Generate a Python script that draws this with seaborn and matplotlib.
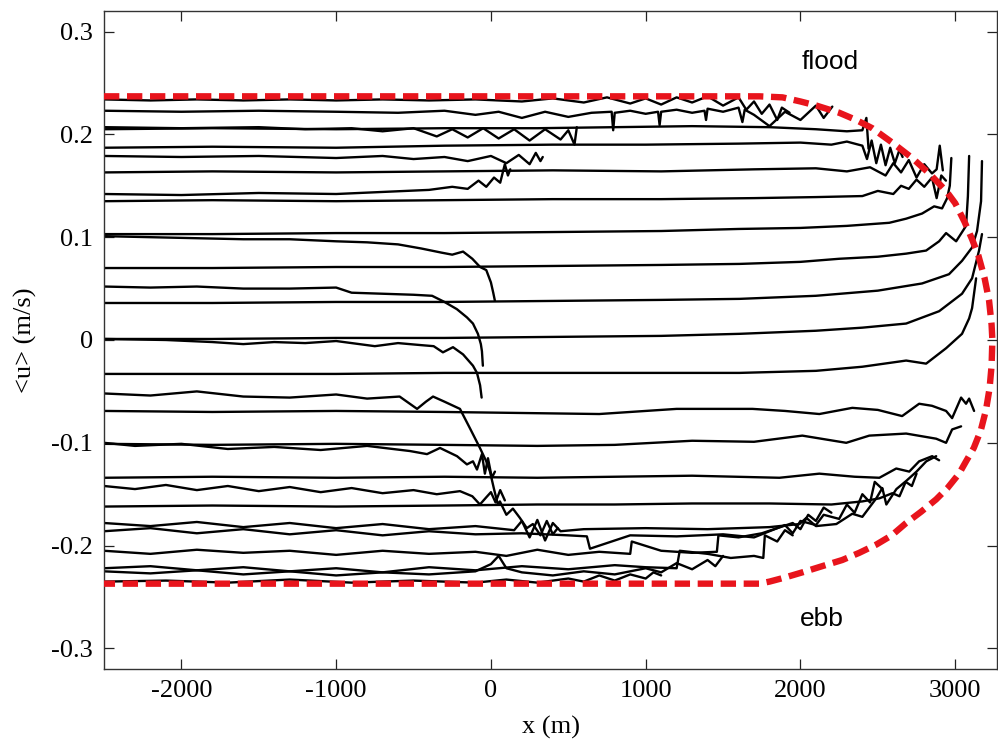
import numpy as np
import pandas as pd
import matplotlib
matplotlib.use("Agg")
import matplotlib.pyplot as plt
import seaborn as sns

# ---------------- data ----------------
# flood-side profiles (x in m, <u> in m/s)
f1_x = [-2500,-2200,-1900,-1600,-1300,-1000,-700,-400,-100,200,400,600,750,900,1000,1100,1200,1300,1400,1500,1600,1650,1700,1750,1800,1850,1880,1930]
f1_u = [0.234,0.233,0.234,0.233,0.234,0.233,0.234,0.233,0.234,0.232,0.235,0.231,0.236,0.230,0.235,0.229,0.236,0.231,0.237,0.228,0.236,0.224,0.232,0.220,0.229,0.214,0.226,0.221]

f2_x = [-2500,-2000,-1500,-1000,-600,-300,-100,50,200,350,500,650,780,790,800,900,1000,1080,1090,1100,1200,1300,1380,1390,1400,1500,1600,1625,1640,1700,1800,1900,2000,2100,2150,2206]
f2_u = [0.223,0.222,0.223,0.222,0.221,0.223,0.219,0.222,0.216,0.222,0.217,0.221,0.222,0.204,0.221,0.223,0.220,0.222,0.209,0.222,0.224,0.221,0.223,0.214,0.225,0.222,0.226,0.212,0.224,0.219,0.208,0.222,0.214,0.228,0.216,0.227]

f3_x = [-2500,-2000,-1500,-1200,-900,-700,-500,-350,-250,-150,-50,50,150,250,350,450,500,540,555]
f3_u = [0.207,0.206,0.207,0.205,0.206,0.203,0.206,0.198,0.205,0.197,0.206,0.196,0.205,0.194,0.205,0.195,0.204,0.190,0.207]

f4_x = [-2500,-1800,-1000,-300,300,800,1300,1800,2100,2300,2400,2426,2440]
f4_u = [0.205,0.206,0.205,0.206,0.206,0.207,0.208,0.207,0.205,0.203,0.204,0.216,0.186]

f5_x = [-2500,-1800,-1000,-300,400,1000,1600,2000,2200,2300,2400,2430,2460,2490,2520,2550,2580,2610,2640,2660]
f5_u = [0.187,0.188,0.187,0.189,0.190,0.190,0.191,0.192,0.190,0.193,0.189,0.176,0.194,0.172,0.190,0.170,0.187,0.172,0.185,0.178]

f6_x = [-2500,-2000,-1500,-1000,-700,-500,-300,-150,0,100,180,250,290,320,335]
f6_u = [0.179,0.178,0.179,0.177,0.179,0.176,0.178,0.174,0.179,0.172,0.180,0.171,0.182,0.174,0.178]

f7_x = [-2500,-1800,-1000,-300,400,1100,1700,2100,2300,2450,2550,2600,2650,2700,2750,2800,2850,2880,2900,2920]
f7_u = [0.163,0.164,0.163,0.164,0.165,0.164,0.166,0.167,0.164,0.168,0.160,0.172,0.163,0.175,0.158,0.171,0.162,0.166,0.189,0.165]

f8_x = [-2500,-2000,-1500,-1000,-700,-400,-250,-150,-80,-30,20,60,90,110,125]
f8_u = [0.142,0.141,0.143,0.142,0.144,0.146,0.149,0.147,0.155,0.149,0.158,0.153,0.171,0.160,0.166]

f9_x = [-2500,-1800,-1000,-300,400,1100,1700,2100,2400,2500,2600,2650,2700,2750,2800,2850,2880,2910,2940]
f9_u = [0.135,0.136,0.135,0.136,0.137,0.137,0.138,0.139,0.140,0.145,0.142,0.150,0.147,0.156,0.149,0.158,0.138,0.160,0.155]

f10_x = [-2500,-1800,-1000,-300,400,1100,1600,2000,2300,2574,2683,2786,2864,2915,2948,2965,2975]
f10_u = [0.103,0.103,0.104,0.104,0.105,0.106,0.108,0.109,0.111,0.114,0.118,0.123,0.130,0.128,0.138,0.150,0.177]

f11_x = [-2500,-2200,-1900,-1600,-1300,-1000,-800,-600,-450,-320,-250,-180,-120,-70,-30,0,15,26]
f11_u = [0.101,0.100,0.099,0.098,0.098,0.096,0.095,0.093,0.089,0.085,0.083,0.086,0.079,0.071,0.068,0.056,0.046,0.038]

f12_x = [-2500,-1800,-1000,-300,400,1100,1606,2000,2250,2500,2683,2812,2896,2941,3006,3070,3082,3090]
f12_u = [0.070,0.070,0.071,0.071,0.072,0.073,0.074,0.076,0.079,0.081,0.084,0.087,0.096,0.104,0.096,0.111,0.140,0.179]

f13_x = [-2500,-2200,-1900,-1600,-1300,-1000,-900,-700,-500,-380,-300,-220,-155,-116,-84,-65,-58,-52]
f13_u = [0.052,0.051,0.052,0.050,0.050,0.051,0.046,0.045,0.044,0.043,0.037,0.030,0.022,0.016,0.006,-0.004,-0.011,-0.025]

f14_x = [-2500,-1800,-1000,-300,400,1100,1606,2100,2500,2786,2960,3044,3109,3141,3167,3173]
f14_u = [0.036,0.036,0.037,0.037,0.038,0.039,0.040,0.043,0.048,0.055,0.064,0.077,0.090,0.106,0.135,0.174]

f15_x = [-2500,-1800,-1000,-300,400,1100,1606,2100,2400,2683,2896,3044,3109,3154,3173]
f15_u = [0.001,0.001,0.002,0.002,0.003,0.004,0.006,0.009,0.012,0.016,0.028,0.045,0.060,0.087,0.103]

f16_x = [-2500,-2100,-1800,-1600,-1400,-1200,-1000,-750,-600,-450,-370,-310,-245,-180,-116,-90,-70,-60]
f16_u = [0.001,0.000,-0.002,-0.004,-0.002,-0.003,-0.001,-0.006,-0.003,-0.005,-0.006,-0.012,-0.007,-0.014,-0.025,-0.032,-0.044,-0.056]

# ebb-side profiles
e1_x = [-2500,-1800,-1000,-300,400,1100,1606,2100,2400,2683,2812,2941,3044,3090,3109,3135]
e1_u = [-0.033,-0.033,-0.033,-0.032,-0.032,-0.032,-0.032,-0.030,-0.026,-0.020,-0.023,-0.008,0.006,0.021,0.031,0.060]

e2_x = [-2500,-2200,-1900,-1600,-1300,-1000,-800,-590,-477,-420,-374,-300,-200,-135,-71,-30,-6,20,45,58,100,142,187,232,271,320,361,400,432]
e2_u = [-0.052,-0.054,-0.050,-0.055,-0.056,-0.053,-0.057,-0.055,-0.067,-0.060,-0.055,-0.060,-0.067,-0.086,-0.105,-0.118,-0.128,-0.145,-0.160,-0.157,-0.170,-0.164,-0.173,-0.183,-0.179,-0.190,-0.176,-0.189,-0.183]

e3_x = [-2500,-1800,-1000,-300,200,700,1200,1690,1900,2122,2335,2500,2657,2767,2850,2941,2980,3038,3070,3090,3122]
e3_u = [-0.069,-0.070,-0.069,-0.070,-0.071,-0.072,-0.067,-0.067,-0.069,-0.072,-0.066,-0.068,-0.074,-0.062,-0.064,-0.069,-0.076,-0.056,-0.062,-0.057,-0.069]

e4_x = [-2500,-1800,-1000,-300,300,800,1300,1700,2012,2296,2445,2683,2877,2941,2980,3038]
e4_u = [-0.101,-0.102,-0.101,-0.102,-0.103,-0.102,-0.098,-0.099,-0.093,-0.100,-0.093,-0.091,-0.096,-0.100,-0.087,-0.084]

e5_x = [-2500,-2300,-2000,-1700,-1400,-1100,-800,-523,-413,-329,-219,-155,-116,-90,-58,-39,-19,6,26]
e5_u = [-0.100,-0.103,-0.101,-0.106,-0.104,-0.107,-0.103,-0.108,-0.111,-0.105,-0.113,-0.121,-0.118,-0.126,-0.111,-0.130,-0.115,-0.134,-0.128]

e6_x = [-2500,-1800,-1000,-300,300,800,1300,1864,2122,2350,2510,2619,2703,2767,2851,2896]
e6_u = [-0.134,-0.133,-0.134,-0.133,-0.134,-0.133,-0.132,-0.134,-0.130,-0.133,-0.134,-0.125,-0.128,-0.118,-0.113,-0.117]

e7_x = [-2500,-2300,-2100,-1900,-1700,-1500,-1300,-1100,-900,-700,-500,-350,-200,-120,-71,-30,0,30,60,90]
e7_u = [-0.142,-0.145,-0.141,-0.146,-0.142,-0.147,-0.143,-0.148,-0.144,-0.149,-0.146,-0.150,-0.147,-0.152,-0.160,-0.153,-0.148,-0.158,-0.146,-0.156]

e8_x = [-2500,-1800,-1000,-300,300,800,1300,1800,2200,2400,2510,2594,2640,2680,2720,2750]
e8_u = [-0.162,-0.161,-0.162,-0.161,-0.160,-0.160,-0.159,-0.159,-0.160,-0.157,-0.154,-0.149,-0.152,-0.138,-0.142,-0.130]

e9_x = [-2500,-2200,-1900,-1600,-1300,-1000,-700,-400,-100,150,200,250,300,350,400,450,600,1000,1400,1800,1994,2038,2100,2232,2335,2400,2490,2529,2555,2620,2684,2750,2813,2877]
e9_u = [-0.178,-0.181,-0.177,-0.182,-0.178,-0.183,-0.179,-0.184,-0.181,-0.185,-0.176,-0.192,-0.175,-0.195,-0.178,-0.186,-0.184,-0.183,-0.184,-0.182,-0.179,-0.173,-0.181,-0.179,-0.169,-0.172,-0.154,-0.144,-0.160,-0.145,-0.137,-0.128,-0.118,-0.113]

e10_x = [-2500,-2200,-1900,-1600,-1300,-1000,-700,-400,-100,200,500,620,640,900,1200,1500,1700,1800,1900,1950,2000,2100,2150,2250,2300,2350,2400,2450,2480,2530]
e10_u = [-0.186,-0.183,-0.188,-0.184,-0.189,-0.185,-0.190,-0.186,-0.189,-0.188,-0.190,-0.191,-0.203,-0.190,-0.191,-0.189,-0.192,-0.186,-0.180,-0.188,-0.176,-0.180,-0.170,-0.174,-0.160,-0.168,-0.150,-0.158,-0.138,-0.145]

e11_x = [-2500,-2200,-1900,-1600,-1300,-1000,-700,-400,-100,100,300,500,700,900,910,1100,1300,1460,1470,1600,1750,1850,1950,2000,2050,2100,2150,2200]
e11_u = [-0.205,-0.208,-0.204,-0.207,-0.205,-0.209,-0.205,-0.208,-0.206,-0.210,-0.204,-0.209,-0.206,-0.208,-0.196,-0.205,-0.207,-0.206,-0.190,-0.192,-0.188,-0.183,-0.178,-0.184,-0.170,-0.176,-0.163,-0.168]

e12_x = [-2500,-2200,-1900,-1600,-1300,-1000,-700,-400,-100,200,500,800,1000,1200,1220,1400,1550,1700,1760,1770,1850,1900,1950]
e12_u = [-0.222,-0.220,-0.224,-0.221,-0.225,-0.222,-0.226,-0.221,-0.224,-0.220,-0.223,-0.219,-0.221,-0.222,-0.205,-0.208,-0.212,-0.210,-0.212,-0.190,-0.196,-0.185,-0.190]

e13_x = [-2500,-2200,-1900,-1600,-1300,-1000,-700,-400,-100,0,50,100,200,400,600,800,1000,1100,1200,1300,1400,1450,1500]
e13_u = [-0.225,-0.227,-0.224,-0.228,-0.225,-0.229,-0.226,-0.228,-0.225,-0.218,-0.210,-0.222,-0.226,-0.229,-0.225,-0.228,-0.222,-0.226,-0.217,-0.223,-0.214,-0.220,-0.210]

e14_x = [-2500,-2100,-1700,-1300,-900,-500,-100,100,300,500,600,700,800,900,1000,1050,1100]
e14_u = [-0.235,-0.234,-0.236,-0.233,-0.236,-0.234,-0.236,-0.233,-0.236,-0.232,-0.235,-0.229,-0.234,-0.228,-0.232,-0.226,-0.229]

# envelope: upper half (left to right), lower half (right to left)
env_up_x = [-2500, 1735, 1884, 2000, 2103, 2251, 2360, 2464, 2593, 2722, 2832, 2941, 3000, 3060, 3109, 3150, 3190, 3219, 3235, 3240]
env_up_u = [0.237, 0.237, 0.236, 0.232, 0.228, 0.221, 0.214, 0.206, 0.192, 0.177, 0.162, 0.145, 0.133, 0.115, 0.098, 0.082, 0.060, 0.038, 0.015, 0.0]
env_lo_x = [3235, 3222, 3199, 3165, 3120, 3070, 3025, 2950, 2877, 2780, 2683, 2590, 2490, 2380, 2270, 2140, 2012, 1900, 1800, 1735, -2500]
env_lo_u = [-0.025, -0.047, -0.068, -0.088, -0.105, -0.118, -0.130, -0.144, -0.155, -0.167, -0.178, -0.190, -0.199, -0.207, -0.214, -0.220, -0.226, -0.231, -0.235, -0.237, -0.237]

x_ticks = [-2000, -1000, 0, 1000, 2000, 3000]
x_tick_labels = ["-2000", "-1000", "0", "1000", "2000", "3000"]
y_ticks = [-0.3, -0.2, -0.1, 0.0, 0.1, 0.2, 0.3]
y_tick_labels = ["-0.3", "-0.2", "-0.1", "0", "0.1", "0.2", "0.3"]

# ---------------- build tables ----------------
profiles = [
    (f1_x, f1_u), (f2_x, f2_u), (f3_x, f3_u), (f4_x, f4_u), (f5_x, f5_u),
    (f6_x, f6_u), (f7_x, f7_u), (f8_x, f8_u), (f9_x, f9_u), (f10_x, f10_u),
    (f11_x, f11_u), (f12_x, f12_u), (f13_x, f13_u), (f14_x, f14_u),
    (f15_x, f15_u), (f16_x, f16_u),
    (e1_x, e1_u), (e2_x, e2_u), (e3_x, e3_u), (e4_x, e4_u), (e5_x, e5_u),
    (e6_x, e6_u), (e7_x, e7_u), (e8_x, e8_u), (e9_x, e9_u), (e10_x, e10_u),
    (e11_x, e11_u), (e12_x, e12_u), (e13_x, e13_u), (e14_x, e14_u),
]
frames = []
for i, (xs, us) in enumerate(profiles):
    n = min(len(xs), len(us))
    frames.append(pd.DataFrame({"x": xs[:n], "u": us[:n], "id": i}))
df = pd.concat(frames, ignore_index=True)

env_df = pd.DataFrame({"x": env_up_x + env_lo_x, "u": env_up_u + env_lo_u})

# ---------------- draw ----------------
sns.set_style("ticks")
plt.rcParams["font.family"] = ["Liberation Serif", "DejaVu Serif"]

fig = plt.figure(figsize=(9.98, 7.44), dpi=100)
ax = fig.add_axes([104 / 998, 1 - 669 / 744, (997 - 104) / 998, (669 - 11) / 744])

sns.lineplot(data=df, x="x", y="u", units="id", estimator=None, sort=False,
             color="black", linewidth=1.7, ax=ax, legend=False)
sns.lineplot(data=env_df, x="x", y="u", estimator=None, sort=False,
             color="#e8141c", linewidth=4.6, linestyle=(0, (2.4, 1.2)),
             ax=ax, legend=False, zorder=5)

ax.set_xlim(-2500, 3270)
ax.set_ylim(-0.32, 0.32)
ax.set_xticks(x_ticks)
ax.set_xticklabels(x_tick_labels)
ax.set_yticks(y_ticks)
ax.set_yticklabels(y_tick_labels)
ax.tick_params(direction="in", length=7, width=0.9, top=True, right=True,
               labelsize=19, pad=8, colors="#222222", labelcolor="black")
for s in ax.spines.values():
    s.set_linewidth(1.0)
    s.set_color("#333333")

ax.set_xlabel("x (m)", fontsize=19, labelpad=10, color="black")
ax.set_ylabel("<u> (m/s)", fontsize=19, labelpad=10, color="black")

ax.text(2190, 0.270, "flood", fontsize=19, family=["Liberation Sans", "DejaVu Sans"],
        ha="center", va="center", color="black")
ax.text(2140, -0.271, "ebb", fontsize=19, family=["Liberation Sans", "DejaVu Sans"],
        ha="center", va="center", color="black")

fig.savefig("out.png", dpi=100)
